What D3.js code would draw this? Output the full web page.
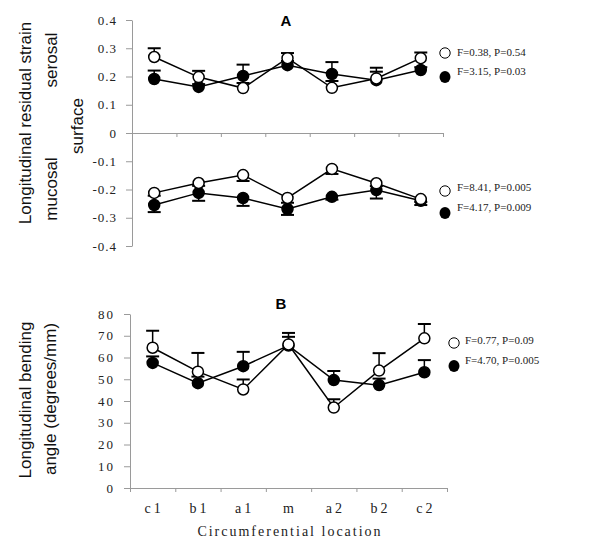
<!DOCTYPE html>
<html><head><meta charset="utf-8">
<script src="https://cdn.jsdelivr.net/npm/d3@7"></script>
<style>body{margin:0;background:#fff}svg{display:block}
.tk text{font-family:'Liberation Serif','Times New Roman',serif !important;}
</style>
</head><body>
<svg id="c" width="600" height="554"></svg>
<script>
const categories = ["c1","b1","a1","m","a2","b2","c2"];
const catLabels = ["c1","b1","a1","m","a2","b2","c2"];
// Panel A: serosal surface (open / filled)
const serosalOpen      = [0.269,0.198,0.159,0.265,0.160,0.193,0.265];
const serosalOpenErr   = [0.031,0.022,0.018,0.018,0.024,0.038,0.020];
const serosalFilled    = [0.191,0.163,0.202,0.240,0.209,0.187,0.223];
const serosalFilledErr = [0.030,0.010,0.040,0.015,0.042,0.030,0.010];
// Panel A: mucosal surface
const mucosalOpen      = [-0.212,-0.177,-0.149,-0.230,-0.127,-0.178,-0.234];
const mucosalOpenErr   = [0.010,0.010,0.021,0.017,0.018,0.010,0.010];
const mucosalFilled    = [-0.255,-0.212,-0.230,-0.269,-0.226,-0.202,-0.240];
const mucosalFilledErr = [0.025,0.028,0.028,0.021,0.010,0.030,0.015];
// Panel B: bending angle
const bendOpen      = [64.5,53.5,45.3,66.0,37.0,54.0,68.8];
const bendOpenErr   = [7.8,8.6,4.6,5.3,3.8,8.0,6.6];
const bendFilled    = [57.5,48.2,56.0,65.5,49.6,47.3,53.2];
const bendFilledErr = [3.0,3.0,6.6,4.0,4.2,3.0,5.6];

const ticksA = [0.4,0.3,0.2,0.1,0,-0.1,-0.2,-0.3,-0.4];
const ticksB = [0,10,20,30,40,50,60,70,80];
const legendSerosal = ["F=0.38, P=0.54","F=3.15, P=0.03"];
const legendMucosal = ["F=8.41, P=0.005","F=4.17, P=0.009"];
const legendB = ["F=0.77, P=0.09","F=4.70, P=0.005"];

const svg = d3.select("#c");
const serif = "'Liberation Serif','Times New Roman',serif";
const sans = "'Liberation Sans',Arial,sans-serif";
const axisColor = "#9a9a9a";

function styleAxis(g, ls, size){
  g.attr("class","tk").attr("font-family", serif).attr("font-size", size);
  g.selectAll("path").attr("stroke", axisColor).attr("stroke-width",1);
  g.selectAll("line").attr("stroke", axisColor).attr("stroke-width",1);
  g.selectAll("text").attr("fill","#222").attr("font-family", serif).attr("font-size", size)
    .attr("letter-spacing", ls);
}

// ---------- Panel A ----------
const xA = d3.scaleBand().domain(categories).range([132,443]);
const xAl = d3.scaleLinear().domain([0,7]).range([132,443]);
const yA = d3.scaleLinear().domain([-0.4,0.4]).range([246,20]);

const gyA = svg.append("g").attr("transform","translate(132,0)");
gyA.call(d3.axisLeft(yA).tickValues(ticksA).tickSize(6).tickSizeOuter(0).tickPadding(9)
    .tickFormat(d => d===0 ? "0" : d3.format(".1f")(d).replace("−","-")));
styleAxis(gyA,"1px",13);
const gxA = svg.append("g").attr("transform",`translate(0,${yA(0)})`);
gxA.call(d3.axisBottom(xAl).tickValues(d3.range(8)).tickSize(4).tickSizeOuter(0).tickFormat(""));
styleAxis(gxA,"0px",13);

// ---------- Panel B ----------
const xB = d3.scaleBand().domain(categories).range([130,447]);
const xBl = d3.scaleLinear().domain([0,7]).range([130,447]);
const yB = d3.scaleLinear().domain([0,80]).range([488,314]);

const gyB = svg.append("g").attr("transform","translate(130,0)");
gyB.call(d3.axisLeft(yB).tickValues(ticksB).tickSize(6).tickSizeOuter(0).tickPadding(9));
styleAxis(gyB,"2px",13);
const gxB = svg.append("g").attr("transform",`translate(0,${yB(0)})`);
gxB.call(d3.axisBottom(xBl).tickValues(d3.range(8)).tickSize(4).tickSizeOuter(0).tickFormat(""));
styleAxis(gxB,"0px",13);
const gxBl = svg.append("g").attr("transform",`translate(0,${yB(0)})`);
gxBl.call(d3.axisBottom(xB).tickSize(0).tickPadding(15).tickFormat((d,i)=>catLabels[i]));
styleAxis(gxBl,"3px",14);
gxBl.select(".domain").remove();
gxBl.selectAll("text").attr("dx","1.5");

// ---------- series drawing ----------
function drawSeries(x, y, vals, errs, dir, filled){
  const cx = d => x(d) + x.bandwidth()/2;
  const g = svg.append("g");
  vals.forEach((v,i)=>{
    const end = v + dir*errs[i];
    const px = cx(categories[i]);
    g.append("line").attr("x1",px).attr("x2",px).attr("y1",y(v)).attr("y2",y(end))
      .attr("stroke","#000").attr("stroke-width",1.5);
    g.append("line").attr("x1",px-6.5).attr("x2",px+6.5).attr("y1",y(end)).attr("y2",y(end))
      .attr("stroke","#000").attr("stroke-width",2);
  });
  const line = d3.line().x((d,i)=>cx(categories[i])).y(d=>y(d));
  g.append("path").datum(vals).attr("d",line).attr("fill","none")
    .attr("stroke","#000").attr("stroke-width",1.5);
  g.selectAll("circle").data(vals).join("circle")
    .attr("cx",(d,i)=>cx(categories[i])).attr("cy",d=>y(d)).attr("r",5.5)
    .attr("fill", filled ? "#000" : "#fff").attr("stroke","#000").attr("stroke-width",1.5);
}

drawSeries(xA, yA, serosalFilled, serosalFilledErr, 1, true);
drawSeries(xA, yA, serosalOpen, serosalOpenErr, 1, false);
drawSeries(xA, yA, mucosalFilled, mucosalFilledErr, -1, true);
drawSeries(xA, yA, mucosalOpen, mucosalOpenErr, -1, false);
drawSeries(xB, yB, bendFilled, bendFilledErr, 1, true);
drawSeries(xB, yB, bendOpen, bendOpenErr, 1, false);

// ---------- legends ----------
function legend(mx, tx, yOpen, yFilled, tOpenY, tFilledY, labels){
  svg.append("circle").attr("cx",mx).attr("cy",yOpen).attr("r",5.2)
    .attr("fill","#fff").attr("stroke","#000").attr("stroke-width",1);
  svg.append("ellipse").attr("cx",mx).attr("cy",yFilled).attr("rx",5.5).attr("ry",6)
    .attr("fill","#000");
  svg.append("text").attr("x",tx).attr("y",tOpenY).text(labels[0])
    .attr("font-family",serif).attr("font-size",11).attr("fill","#222");
  svg.append("text").attr("x",tx).attr("y",tFilledY).text(labels[1])
    .attr("font-family",serif).attr("font-size",11).attr("fill","#222");
}
legend(445, 457, 53, 77, 56, 75, legendSerosal);
legend(445, 457, 191, 213, 191, 211, legendMucosal);
legend(454, 465, 343, 366, 344, 364, legendB);

// ---------- titles ----------
svg.append("text").attr("x",286).attr("y",26).attr("text-anchor","middle").text("A")
  .attr("font-family",sans).attr("font-weight","bold").attr("font-size",15);
svg.append("text").attr("x",281).attr("y",309).attr("text-anchor","middle").text("B")
  .attr("font-family",sans).attr("font-weight","bold").attr("font-size",15);

function vtext(x, y, s){
  svg.append("text").attr("transform",`translate(${x},${y}) rotate(-90)`)
    .attr("text-anchor","middle").text(s)
    .attr("font-family",sans).attr("font-size",17).attr("fill","#111");
}
vtext(31, 123, "Longitudinal residual strain");
vtext(57, 60, "serosal");
vtext(83, 126, "surface");
vtext(57, 189, "mucosal");
vtext(31, 400, "Longitudinal bending");
vtext(56, 399, "angle (degrees/mm)");

svg.append("text").attr("x",290).attr("y",536).attr("text-anchor","middle")
  .text("Circumferential location")
  .attr("font-family",serif).attr("font-size",14).attr("letter-spacing","2px").attr("fill","#222");
</script>
</body></html>
